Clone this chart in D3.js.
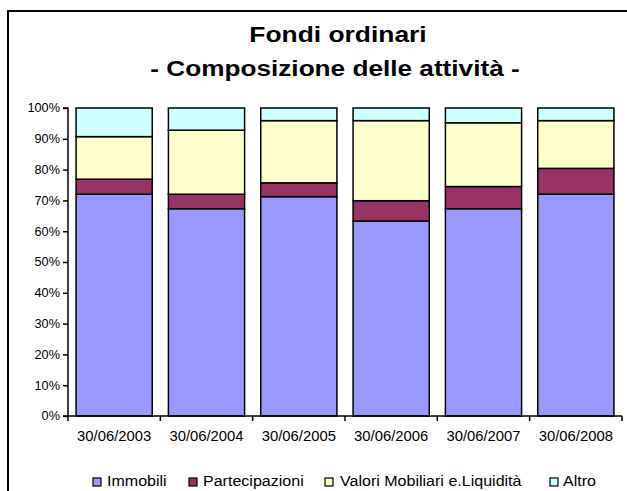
<!DOCTYPE html>
<html>
<head>
<meta charset="utf-8">
<script src="https://cdn.jsdelivr.net/npm/d3@7/dist/d3.min.js"></script>
<style>
  html, body { margin: 0; padding: 0; background: #fff; }
  svg { display: block; font-family: Arial, "Liberation Sans", sans-serif; }
</style>
</head>
<body>
<svg id="chart" width="627" height="491"></svg>
<script>
const categories = ["30/06/2003", "30/06/2004", "30/06/2005", "30/06/2006", "30/06/2007", "30/06/2008"];
const seriesNames = ["Immobili", "Partecipazioni", "Valori Mobiliari e.Liquidità", "Altro"];
const immobili = [72.0, 67.3, 71.2, 63.3, 67.3, 72.0];
const partecipazioni = [4.9, 4.7, 4.5, 6.6, 7.2, 8.4];
const valori = [13.8, 20.8, 20.2, 26.0, 20.7, 15.5];
const altro = [9.3, 7.2, 4.1, 4.1, 4.8, 4.1];
const yTicks = [0, 0.1, 0.2, 0.3, 0.4, 0.5, 0.6, 0.7, 0.8, 0.9, 1.0];
const colors = ["#9999FF", "#993366", "#FFFFCC", "#CCFFFF"];

(function () {
const table = categories.map((c, i) => {
  const tot = immobili[i] + partecipazioni[i] + valori[i] + altro[i];
  return {
    cat: c,
    s0: immobili[i] / tot,
    s1: partecipazioni[i] / tot,
    s2: valori[i] / tot,
    s3: altro[i] / tot
  };
});

const svg = d3.select("#chart");

// text helper: horizontally stretched text like the reference rendering
function stretchedText(parent, x, y, txt, size, sx, anchor, weight) {
  const gg = parent.append("g").attr("transform", `translate(${x},${y}) scale(${sx},1)`);
  gg.append("text").attr("x", 0).attr("y", 0)
    .attr("text-anchor", anchor).attr("font-size", size)
    .attr("font-weight", weight || "normal").attr("fill", "#000")
    .text(txt);
  return gg;
}

// outer frame (extends beyond the visible area)
svg.append("rect")
  .attr("x", 8).attr("y", 11)
  .attr("width", 660).attr("height", 520)
  .attr("fill", "#fff").attr("stroke", "#000").attr("stroke-width", 2);

// title
stretchedText(svg, 338, 42, "Fondi ordinari", 22, 1.2, "middle", "bold");
stretchedText(svg, 335, 76, "- Composizione delle attività -", 22, 1.19, "middle", "bold");

const pLeft = 68, pRight = 622, pTop = 108, pBottom = 416;
const x = d3.scaleBand().domain(categories).range([pLeft, pRight]).paddingInner(0.175).paddingOuter(0.0875);
const y = d3.scaleLinear().domain([0, 1]).range([pBottom, pTop]);

const stacked = d3.stack().keys(["s0", "s1", "s2", "s3"])(table);

const g = svg.append("g");
stacked.forEach((layer, li) => {
  g.selectAll(".b" + li).data(layer).enter().append("rect")
    .attr("x", d => x(d.data.cat))
    .attr("width", x.bandwidth())
    .attr("y", d => y(d[1]))
    .attr("height", d => y(d[0]) - y(d[1]))
    .attr("fill", colors[li])
    .attr("stroke", "#000").attr("stroke-width", 1.5);
});

// y axis
const yAxis = d3.axisLeft(y).tickValues(yTicks).tickFormat(d3.format(".0%")).tickSize(5).tickPadding(3);
const ya = svg.append("g").attr("transform", `translate(${pLeft},0)`).call(yAxis);
ya.select(".domain").attr("stroke", "#000").attr("stroke-width", 1.5).attr("d", `M-5,${pTop}H0V${pBottom}H-5`);
ya.selectAll(".tick line").attr("stroke", "#000").attr("stroke-width", 1.5);
ya.selectAll(".tick text")
  .attr("font-size", 12).attr("font-family", "Arial, 'Liberation Sans', sans-serif").attr("fill", "#000")
  .attr("transform", "translate(-8,0) scale(1.06,1) translate(8,0)");

// x axis
const xa = svg.append("g").attr("transform", `translate(0,${pBottom})`);
xa.append("line").attr("x1", pLeft).attr("x2", pRight).attr("y1", 0).attr("y2", 0)
  .attr("stroke", "#000").attr("stroke-width", 1.5);
const step = x.step();
const bounds = d3.range(categories.length + 1).map(i => pLeft + i * step);
xa.selectAll(".xt").data(bounds).enter().append("line")
  .attr("x1", d => d).attr("x2", d => d).attr("y1", 0).attr("y2", 5)
  .attr("stroke", "#000").attr("stroke-width", 1.5);
categories.forEach(c => {
  stretchedText(xa, x(c) + x.bandwidth() / 2, 25, c, 14, 1.06, "middle");
});

// legend
const legendBox = [93, 189, 325, 550];
const legendText = [107, 203, 340, 563];
const lg = svg.append("g");
seriesNames.forEach((n, i) => {
  lg.append("rect").attr("x", legendBox[i]).attr("y", 478).attr("width", 8).attr("height", 8)
    .attr("fill", colors[i]).attr("stroke", "#000").attr("stroke-width", 1.2);
  stretchedText(lg, legendText[i], 486, n, 15, 1.07, "start");
});
})();
</script>
</body>
</html>
